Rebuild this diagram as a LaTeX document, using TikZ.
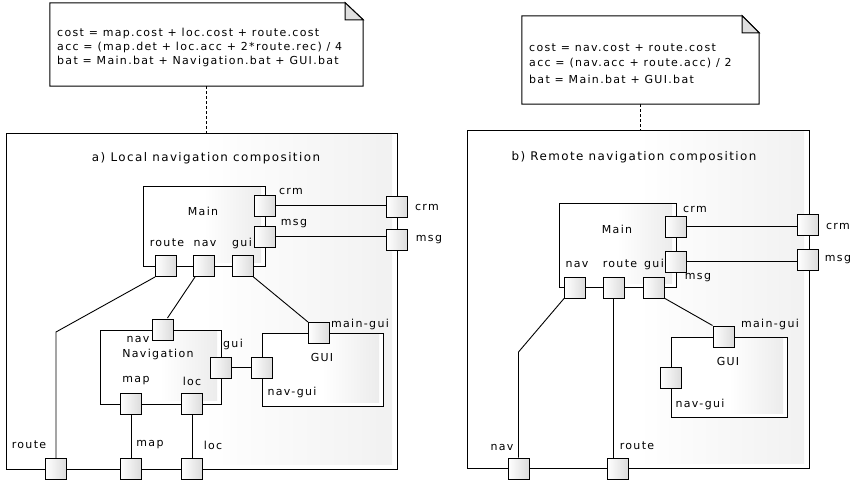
\documentclass[tikz,border=0pt]{standalone}
\usepackage{fontspec}
\setmainfont{DejaVu Sans}[LetterSpace=12]
\usetikzlibrary{calc}
\begin{document}
\begin{tikzpicture}[x=1pt,y=-1pt,
  every node/.style={font=\fontsize{11}{13}\selectfont},
  lbl/.style={inner sep=0pt},
  ttl/.style={inner sep=0pt, font=\fontsize{11.9}{14}\selectfont},
  nline/.style={inner sep=0pt,anchor=west},
  port/.style={draw, line width=1pt, minimum size=21pt, inner sep=0pt, left color=white, right color=gray!28},
  comp/.style={draw, line width=1pt, inner sep=0pt, fill=white,
    path picture={\shade[left color=white, right color=gray!16, middle color=white]
      ($(path picture bounding box.north west)+(1,1)$) rectangle ($(path picture bounding box.south east)+(-4,-4)$);}},
  frame/.style={draw, line width=1pt, inner sep=0pt, fill=white,
    path picture={\shade[left color=white, right color=gray!11, middle color=white]
      ($(path picture bounding box.north west)+(1,1)$) rectangle ($(path picture bounding box.south east)+(-5,-5)$);}},
  wire/.style={line width=0.9pt},
  notebody/.style={inner sep=0pt, fill=white},
  noteline/.style={line width=1pt},
  tie/.style={line width=0.9pt, dash pattern=on 3pt off 2pt}
]
\useasboundingbox (0,0) rectangle (855,483);

% ===================== a) Local =====================
\node[notebody, minimum width=313pt, minimum height=83pt] (noteA) at (206.5,44.5) {};
\draw[noteline] (noteA.north west) -- ($(noteA.north east)+(-18,0)$) -- ($(noteA.north east)+(0,17)$) -- (noteA.south east) -- (noteA.south west) -- cycle;
\filldraw[noteline, fill=gray!25] ($(noteA.north east)+(-18,0)$) -- ($(noteA.north east)+(-18,17)$) -- ($(noteA.north east)+(0,17)$) -- cycle;
\node[nline] (noteA1) at (57,33) {cost = map.cost + loc.cost + route.cost};
\node[nline] (noteA2) at (57,47) {acc = (map.det + loc.acc + 2*route.rec) / 4};
\node[nline] (noteA3) at (57,61) {bat = Main.bat + Navigation.bat + GUI.bat};

\node[frame, minimum width=391pt, minimum height=336pt] (frameA) at (201.5,301) {};
\draw[tie] (noteA.south) -- (noteA.south |- frameA.north);
\node[ttl] (titleA) at (206,158) {a) Local navigation composition};

\node[comp, minimum width=122pt, minimum height=80pt] (mainA) at (204,226) {};
\node[comp, minimum width=121pt, minimum height=74pt] (navcA) at (160.5,367) {};
\node[comp, minimum width=121pt, minimum height=73pt] (guicA) at (322.5,369.5) {};

% ports
\node[port] (crmA) at (265,205.5) {};
\node[port] (msgA) at (265,236.5) {};
\node[port] (ocrmA) at (397,206.5) {};
\node[port] (omsgA) at (397,240) {};
\node[port] (routeA) at (166,266) {};
\node[port] (navA) at (204,266) {};
\node[port] (guiA) at (242.5,266) {};
\node[port] (nnavA) at (162.5,330) {};
\node[port] (mapA) at (131,404) {};
\node[port] (locA) at (192,404) {};
\node[port] (nguiA) at (221,367.5) {};
\node[port] (mguiA) at (319,333) {};
\node[port] (ngguiA) at (262,367.5) {};
\node[port] (orouteA) at (56,469) {};
\node[port] (omapA) at (131,469) {};
\node[port] (olocA) at (192,469) {};

% wires
\coordinate (bendA) at (56,332);
\draw[wire] (crmA.east) -- (crmA.east -| ocrmA.west);
\draw[wire] (msgA.east) -- (msgA.east -| omsgA.west);
\draw[wire] (routeA.south west) -- (bendA) -- (orouteA.north);
\draw[wire] ($(navA.south west)+(2,0)$) -- ($(nnavA.north east)+(-6,-1)$);
\draw[wire] (guiA.south east) -- (mguiA.north west);
\draw[wire] (mapA.south) -- (omapA.north);
\draw[wire] (locA.south) -- (olocA.north);
\draw[wire] (nguiA.east) -- (ngguiA.west);

% labels
\node[lbl] (lMainA) at (203,211) {Main};
\node[lbl] (lcrmA) at (291,191) {crm};
\node[lbl] (lmsgA) at (294,224) {msg};
\node[lbl] (locrmA) at (427,207) {crm};
\node[lbl] (lomsgA) at (429,240) {msg};
\node[lbl] (lrouteA) at (167,243) {route};
\node[lbl] (lnavA) at (205,243) {nav};
\node[lbl] (lguiA) at (242,243) {gui};
\node[lbl] (lnnavA) at (138,339) {nav};
\node[lbl] (lNavA) at (158,354) {Navigation};
\node[lbl] (lmapA) at (136,381) {map};
\node[lbl] (llocA) at (192,381) {loc};
\node[lbl] (lnguiA) at (233,344) {gui};
\node[lbl] (lGUIA) at (322,357) {GUI};
\node[lbl] (lmguiA) at (360,324) {main-gui};
\node[lbl] (lngguiA) at (292,392) {nav-gui};
\node[lbl] (lorouteA) at (29,445) {route};
\node[lbl] (lomapA) at (150,445) {map};
\node[lbl] (lolocA) at (213,445) {loc};

% ===================== b) Remote =====================
\node[notebody, minimum width=237pt, minimum height=88pt] (noteB) at (640.5,60) {};
\draw[noteline] (noteB.north west) -- ($(noteB.north east)+(-17,0)$) -- ($(noteB.north east)+(0,17)$) -- (noteB.south east) -- (noteB.south west) -- cycle;
\filldraw[noteline, fill=gray!25] ($(noteB.north east)+(-17,0)$) -- ($(noteB.north east)+(-17,17)$) -- ($(noteB.north east)+(0,17)$) -- cycle;
\node[nline] (noteB1) at (529,48) {cost = nav.cost + route.cost};
\node[nline] (noteB2) at (529,63.5) {acc = (nav.acc + route.acc) / 2};
\node[nline] (noteB3) at (529,79) {bat = Main.bat + GUI.bat};

\node[frame, minimum width=342pt, minimum height=338pt] (frameB) at (638,299) {};
\draw[tie] (noteB.south) -- (noteB.south |- frameB.north);
\node[ttl] (titleB) at (634,157) {b) Remote navigation composition};

\node[comp, minimum width=117pt, minimum height=84pt] (mainB) at (617.5,245) {};
\node[comp, minimum width=116pt, minimum height=80pt] (guicB) at (729,377) {};

\node[port] (crmB) at (676,226.5) {};
\node[port] (msgB) at (676,261.5) {};
\node[port] (ocrmB) at (808,225) {};
\node[port] (omsgB) at (808,260) {};
\node[port] (navB) at (575,287.5) {};
\node[port] (routeB) at (613.5,287.5) {};
\node[port] (guiB) at (654,287.5) {};
\node[port] (mguiB) at (723.5,336.5) {};
\node[port] (ngguiB) at (671,377.5) {};
\node[port] (onavB) at (518.5,468.5) {};
\node[port] (orouteB) at (617.5,468.5) {};

\coordinate (bendB) at (518.5,352);
\draw[wire] (crmB.east) -- (crmB.east -| ocrmB.west);
\draw[wire] (msgB.east) -- (msgB.east -| omsgB.west);
\draw[wire] (navB.south west) -- (bendB) -- (onavB.north);
\draw[wire] (routeB.south) -- (routeB.south |- orouteB.north);
\draw[wire] (guiB.south east) -- (mguiB.north west);

\node[lbl] (lMainB) at (617,229) {Main};
\node[lbl] (lcrmB) at (695,209) {crm};
\node[lbl] (lmsgB) at (698,278) {msg};
\node[lbl] (locrmB) at (838,226) {crm};
\node[lbl] (lomsgB) at (838,260) {msg};
\node[lbl] (lnavB) at (577,264) {nav};
\node[lbl] (lrouteB) at (620,264) {route};
\node[lbl] (lguiB) at (654,264) {gui};
\node[lbl] (lGUIB) at (728,361) {GUI};
\node[lbl] (lmguiB) at (770,324) {main-gui};
\node[lbl] (lngguiB) at (700,404) {nav-gui};
\node[lbl] (lonavB) at (502,447) {nav};
\node[lbl] (lorouteB) at (637,446) {route};
\end{tikzpicture}
\end{document}
